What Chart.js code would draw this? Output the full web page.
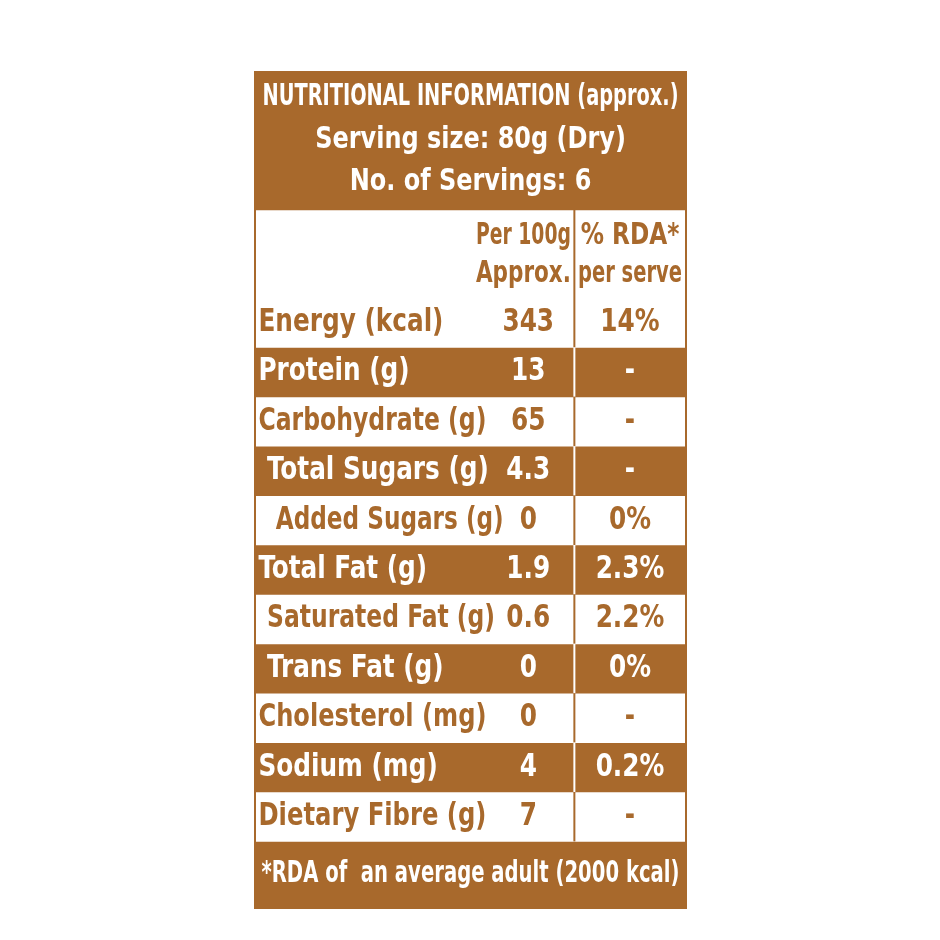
<!DOCTYPE html>
<html><head><meta charset="utf-8">
<script src="https://cdn.jsdelivr.net/npm/chart.js@4/dist/chart.umd.min.js"></script>
<style>html,body{margin:0;background:#fff}#wrap{width:940px;height:940px}</style>
</head><body><div id="wrap"><canvas id="c"></canvas></div>
<script>
const titleLines = ["NUTRITIONAL INFORMATION (approx.)", "Serving size: 80g (Dry)", "No. of Servings: 6"];
const colHeads = [["Per 100g", "Approx."], ["% RDA*", "per serve"]];
const nutrients = ["Energy (kcal)", "Protein (g)", "Carbohydrate (g)", " Total Sugars (g)", "  Added Sugars (g)", "Total Fat (g)", " Saturated Fat (g)", " Trans Fat (g)", "Cholesterol (mg)", "Sodium (mg)", "Dietary Fibre (g)"];
const per100g = ["343", "13", "65", "4.3", "0", "1.9", "0.6", "0", "0", "4", "7"];
const rdaPerServe = ["14%", "-", "-", "-", "0%", "2.3%", "2.2%", "0%", "-", "0.2%", "-"];
const footnote = "*RDA of  an average adult (2000 kcal)";
const rowEdges = [0, 138, 226, 275.4, 324.8, 374.2, 423.6, 473, 522.4, 571.8, 621.2, 670.6, 720, 769.4, 836];

const BROWN = "#a8692c", WHITE = "#ffffff";
const FONT = '"DejaVu Sans Condensed","Liberation Sans Narrow","Liberation Sans",sans-serif';
const fill = i => (i === 0 || i === rowEdges.length - 2) ? BROWN : (i === 1 ? WHITE : ((i - 2) % 2 === 0 ? WHITE : BROWN));

const datasets = [];
for (let i = 0; i < rowEdges.length - 1; i++) {
  datasets.push({ data: [[rowEdges[i], rowEdges[i + 1]]], backgroundColor: fill(i), borderWidth: 0 });
}

const textPlugin = {
  id: 'tableText',
  afterDatasetsDraw(chart) {
    const ctx = chart.ctx, y = chart.scales.y, a = chart.chartArea;
    const W = a.right - a.left;
    const xp = f => a.left + f * W;
    const mid = (i) => y.getPixelForValue((rowEdges[i] + rowEdges[i + 1]) / 2);
    const SX = 0.86;
    const txt = (s, x, yy, col, align, size, maxW) => {
      ctx.save();
      ctx.font = '600 ' + size + 'px ' + FONT; ctx.fillStyle = col; ctx.textAlign = align; ctx.textBaseline = 'middle';
      ctx.translate(x, yy); ctx.scale(SX, 1);
      if (maxW) ctx.fillText(s, 0, 0, maxW / SX); else ctx.fillText(s, 0, 0);
      ctx.restore();
    };
    // divider
    const dx = xp(0.741);
    for (let i = 1; i < rowEdges.length - 2; i++) {
      ctx.save();
      ctx.strokeStyle = fill(i) === WHITE ? BROWN : WHITE; ctx.lineWidth = 2;
      ctx.beginPath(); ctx.moveTo(dx, y.getPixelForValue(rowEdges[i])); ctx.lineTo(dx, y.getPixelForValue(rowEdges[i + 1])); ctx.stroke();
      ctx.restore();
    }
    const t0 = y.getPixelForValue(rowEdges[0]), t1 = y.getPixelForValue(rowEdges[1]);
    titleLines.forEach((s, k) => txt(s, xp(0.5), t0 + (t1 - t0) * (0.18 + k * 0.31), WHITE, 'center', 31, 416));
    const h0 = y.getPixelForValue(rowEdges[1]), h1 = y.getPixelForValue(rowEdges[2]);
    txt(colHeads[0][0], xp(0.733), h0 + (h1 - h0) * 0.3, BROWN, 'right', 30, 95);
    txt(colHeads[0][1], xp(0.733), h0 + (h1 - h0) * 0.73, BROWN, 'right', 30, 95);
    txt(colHeads[1][0], xp(0.87), h0 + (h1 - h0) * 0.3, BROWN, 'center', 30, 100);
    txt(colHeads[1][1], xp(0.87), h0 + (h1 - h0) * 0.73, BROWN, 'center', 30, 104);
    nutrients.forEach((n, k) => {
      const i = k + 2, col = fill(i) === WHITE ? BROWN : WHITE, yy = mid(i);
      const ind = n.length - n.trimStart().length;
      txt(n.trim(), xp(0.008 + ind * 0.02), yy, col, 'left', 32, 228);
      txt(per100g[k], xp(0.634), yy, col, 'center', 32);
      txt(rdaPerServe[k], xp(0.87), yy, col, 'center', 32);
    });
    txt(footnote, xp(0.5), mid(rowEdges.length - 2), WHITE, 'center', 30, 418);
    ctx.save();
    ctx.strokeStyle = BROWN; ctx.lineWidth = 2;
    ctx.strokeRect(a.left, a.top, W, a.bottom - a.top);
    ctx.restore();
  }
};

new Chart(document.getElementById('c'), {
  type: 'bar',
  data: { labels: ['table'], datasets },
  options: {
    responsive: true, maintainAspectRatio: false, animation: false,
    layout: { padding: { left: 255, right: 254, top: 72, bottom: 32 } },
    datasets: { bar: { grouped: false, barPercentage: 1, categoryPercentage: 1 } },
    plugins: { legend: { display: false }, tooltip: { enabled: false } },
    scales: {
      x: { display: false },
      y: { display: false, reverse: true, min: 0, max: 836 }
    }
  },
  plugins: [textPlugin]
});
</script></body></html>
